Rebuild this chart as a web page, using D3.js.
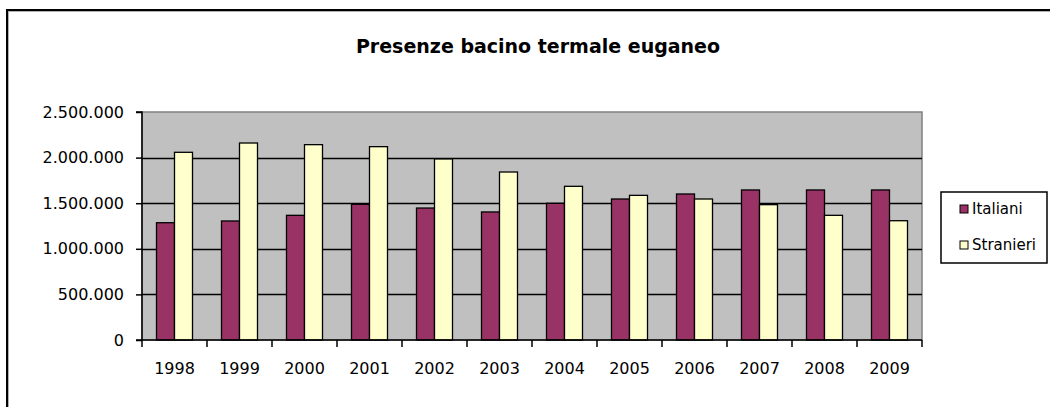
<!DOCTYPE html>
<html>
<head>
<meta charset="utf-8">
<script src="https://cdn.jsdelivr.net/npm/d3@7"></script>
<style>
  body { margin: 0; background: #fff; }
  text { font-family: "DejaVu Sans", sans-serif; fill: #000; }
</style>
</head>
<body>
<div id="chart"></div>
<script>
var years = ["1998", "1999", "2000", "2001", "2002", "2003", "2004", "2005", "2006", "2007", "2008", "2009"],
    italiani = [1286000, 1305000, 1367000, 1488000, 1447000, 1404000, 1499000, 1546000, 1601000, 1645000, 1645000, 1645000],
    stranieri = [2058000, 2160000, 2142000, 2120000, 1985000, 1842000, 1685000, 1586000, 1546000, 1484000, 1367000, 1308000],
    seriesNames = ["Italiani", "Stranieri"],
    colors = ["#993366", "#FFFFCC"],
    yTicks = [0, 500000, 1000000, 1500000, 2000000, 2500000];

var W = 1050, H = 407,
    plot = { left: 142, right: 922, top: 112, bottom: 340 };

var svg = d3.select("#chart").append("svg").attr("width", W).attr("height", H);

// chart frame (runs off the right and bottom edges)
svg.append("rect").attr("x", 8.5).attr("y", 11.5).attr("width", 1200).attr("height", 600)
    .attr("fill", "none").attr("stroke", "#b0b0b0").attr("stroke-width", 1);
svg.append("rect").attr("x", 7).attr("y", 10).attr("width", 1200).attr("height", 600)
    .attr("fill", "none").attr("stroke", "#000").attr("stroke-width", 2);

svg.append("text").attr("x", 538).attr("y", 53).attr("text-anchor", "middle")
    .style("font-size", "19px").style("font-weight", "bold")
    .text("Presenze bacino termale euganeo");

var x = d3.scaleBand().domain(years).range([plot.left, plot.right]);
var y = d3.scaleLinear().domain([0, 2500000]).range([plot.bottom, plot.top]);
var barW = 18;

svg.append("rect").attr("x", plot.left).attr("y", plot.top)
    .attr("width", plot.right - plot.left).attr("height", plot.bottom - plot.top)
    .attr("fill", "#C0C0C0").attr("stroke", "#808080").attr("stroke-width", 1.5);

// gridlines
svg.append("g").selectAll("line").data(yTicks.filter(function(d) { return d > 0 && d < 2500000; }))
    .enter().append("line")
    .attr("x1", plot.left).attr("x2", plot.right)
    .attr("y1", function(d) { return Math.round(y(d)) + 0.5; })
    .attr("y2", function(d) { return Math.round(y(d)) + 0.5; })
    .attr("stroke", "#000").attr("stroke-width", 1.3);

// bars
var data = [];
years.forEach(function(yr, i) {
    data.push({ year: yr, s: 0, v: italiani[i] });
    data.push({ year: yr, s: 1, v: stranieri[i] });
});

svg.append("g").selectAll("rect").data(data).enter().append("rect")
    .attr("x", function(d) { return x(d.year) + x.bandwidth() / 2 - barW + d.s * barW; })
    .attr("y", function(d) { return y(d.v); })
    .attr("width", barW)
    .attr("height", function(d) { return plot.bottom - y(d.v); })
    .attr("fill", function(d) { return colors[d.s]; })
    .attr("stroke", "#000").attr("stroke-width", 1.3);

// y axis
var yAxis = d3.axisLeft(y).tickValues(yTicks).tickSize(6).tickPadding(12)
    .tickFormat(function(d) { return d3.format(",")(d).replace(/,/g, "."); });
var gy = svg.append("g").attr("transform", "translate(" + plot.left + ",0)").call(yAxis);
gy.select(".domain").attr("stroke", "#000").attr("stroke-width", 1.5).attr("d", "M-6," + plot.top + "H0V" + plot.bottom + "H-6");
gy.selectAll(".tick line").attr("stroke", "#000").attr("stroke-width", 1.5);
gy.selectAll("text").style("font-size", "16px").attr("font-family", "DejaVu Sans");

// x axis
var xAxis = d3.axisBottom(x).tickSize(0).tickPadding(23);
var gx = svg.append("g").attr("transform", "translate(0," + plot.bottom + ")").call(xAxis);
gx.select(".domain").attr("stroke", "#000").attr("stroke-width", 1.5).attr("d", "M" + plot.left + ",0H" + plot.right);
gx.selectAll("text").style("font-size", "16px").attr("font-family", "DejaVu Sans");
gx.selectAll(".boundary").data(d3.range(years.length + 1)).enter().append("line")
    .attr("x1", function(i) { return plot.left + i * x.step(); })
    .attr("x2", function(i) { return plot.left + i * x.step(); })
    .attr("y1", 0).attr("y2", 7)
    .attr("stroke", "#000").attr("stroke-width", 1.5);

// legend
var lg = svg.append("g");
lg.append("rect").attr("x", 941).attr("y", 192).attr("width", 106).attr("height", 71)
    .attr("fill", "#fff").attr("stroke", "#000").attr("stroke-width", 1.5);
var items = lg.selectAll(".item").data(seriesNames).enter().append("g")
    .attr("transform", function(d, i) { return "translate(960," + (209 + i * 36) + ")"; });
items.append("rect").attr("x", 0).attr("y", -4).attr("width", 8).attr("height", 8)
    .attr("fill", function(d, i) { return colors[i]; }).attr("stroke", "#000").attr("stroke-width", 1);
items.append("text").attr("x", 12).attr("y", 0).attr("dy", "0.36em")
    .style("font-size", "15px").text(function(d) { return d; });
</script>
</body>
</html>
